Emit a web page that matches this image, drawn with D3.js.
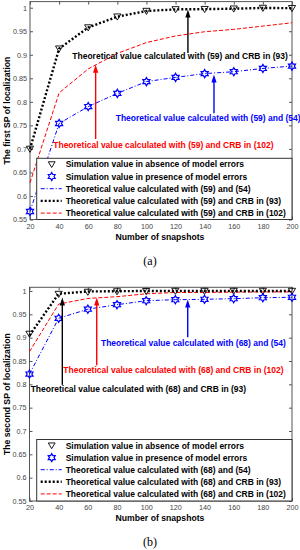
<!DOCTYPE html>
<html><head><meta charset="utf-8">
<script src="https://cdn.jsdelivr.net/npm/d3@7/dist/d3.min.js"></script>
<style>
html,body{margin:0;padding:0;background:#fff;}
svg{display:block;font-family:"Liberation Sans",Arial,sans-serif;}
</style></head>
<body>
<svg id="c" width="300" height="550"></svg>
<script>
// ---------- data ----------
const snapshots = [20, 40, 60, 80, 100, 120, 140, 160, 180, 200];
const xTicks = [20, 40, 60, 80, 100, 120, 140, 160, 180, 200];
const yTicks = [0.55, 0.6, 0.65, 0.7, 0.75, 0.8, 0.85, 0.9, 0.95, 1];

// panel (a): first SP
const aSimNoErr   = [0.700, 0.913, 0.958, 0.981, 0.993, 0.9965, 0.997, 0.998, 0.9995, 0.999];
const aSimErr     = [0.567, 0.754, 0.790, 0.818, 0.843, 0.852, 0.860, 0.864, 0.871, 0.876];
const aTheo54     = [0.567, 0.754, 0.790, 0.818, 0.843, 0.852, 0.860, 0.864, 0.871, 0.876];
const aTheo93     = [0.700, 0.913, 0.958, 0.981, 0.993, 0.9965, 0.997, 0.998, 0.9995, 0.999];
const aTheo102    = [0.628, 0.819, 0.870, 0.903, 0.926, 0.940, 0.949, 0.954, 0.961, 0.968];

// panel (b): second SP
const bSimNoErr   = [0.908, 0.9935, 0.998, 0.999, 0.9995, 1.0, 1.0, 1.0, 1.0, 1.0];
const bSimErr     = [0.822, 0.9415, 0.961, 0.9706, 0.9792, 0.9813, 0.9822, 0.9835, 0.9856, 0.9865];
const bTheo54     = [0.822, 0.9415, 0.961, 0.9706, 0.9792, 0.9813, 0.9822, 0.9835, 0.9856, 0.9865];
const bTheo93     = [0.905, 0.994, 0.999, 0.9995, 1.0, 1.0, 1.0, 1.0, 1.0, 1.0];
const bTheo102    = [0.870, 0.972, 0.984, 0.9878, 0.994, 0.9968, 0.997, 0.9975, 0.998, 0.998];

const aLegend = [
  "Simulation value in absence of model errors",
  "Simulation value in presence of model errors",
  "Theoretical value calculated with (59) and (54)",
  "Theoretical value calculated with (59) and CRB in (93)",
  "Theoretical value calculated with (59) and CRB in (102)"
];
const bLegend = [
  "Simulation value in absence of model errors",
  "Simulation value in presence of model errors",
  "Theoretical value calculated with (68) and (54)",
  "Theoretical value calculated with (68) and CRB in (93)",
  "Theoretical value calculated with (68) and CRB in (102)"
];
// annotations: text, color, text anchor point (snapshots, SP), arrow x, arrow y from, arrow y to
const aNotes = [
  {t:"Theoretical value calculated with (59) and CRB in (93)", c:"#000", tx:49.1, ty:0.897, ax:128.5, y1:0.904, y2:0.996},
  {t:"Theoretical value calculated with (59) and (54)", c:"#0000ff", tx:78.9, ty:0.765, ax:146.4, y1:0.776, y2:0.858},
  {t:"Theoretical value calculated with (59) and CRB in (102)", c:"#ff0000", tx:36.0, ty:0.708, ax:65.1, y1:0.721, y2:0.879}
];
const bNotes = [
  {t:"Theoretical value calculated with (68) and (54)", c:"#0000ff", tx:69.0, ty:0.888, ax:128.5, y1:0.901, y2:0.982},
  {t:"Theoretical value calculated with (68) and CRB in (102)", c:"#ff0000", tx:43.2, ty:0.831, ax:66.1, y1:0.841, y2:0.986},
  {t:"Theoretical value calculated with (68) and CRB in (93)", c:"#000", tx:20.8, ty:0.790, ax:42.5, y1:0.799, y2:0.986}
];

// ---------- drawing ----------
const svg = d3.select("#c");

// choose font sizes so that text widths match the reference
function fitSize(str, weight, target){
  const t = svg.append("text").attr("font-weight",weight).style("font-size","10px").text(str);
  const w = t.node().getComputedTextLength();
  t.remove();
  return 10*target/w;
}
const FS = fitSize("Theoretical value calculated with (59) and (54)", "bold", 185);
const XLFS = fitSize("Number of snapshots", "bold", 89);
const TFS = fitSize("200", "normal", 12);

function hexagram(r){
  const p = [];
  for (let i=0;i<12;i++){
    const ang = -Math.PI/2 + i*Math.PI/6;
    const rr = (i%2===0) ? r : r*0.577;
    p.push([rr*Math.cos(ang), rr*Math.sin(ang)]);
  }
  return "M" + p.map(q=>q.join(",")).join("L") + "Z";
}
function triDown(r){
  return `M${-r},${-r*0.75}L${r},${-r*0.75}L0,${r*0.95}Z`;
}

function panel(cfg){
  const g = svg.append("g");
  const x = d3.scaleLinear().domain([20,200]).range([cfg.left, cfg.right]);
  const y = d3.scaleLinear().domain([0.55, cfg.ymax]).range([cfg.bottom, cfg.top]);

  g.append("rect").attr("x",cfg.left).attr("y",cfg.top)
    .attr("width",cfg.right-cfg.left).attr("height",cfg.bottom-cfg.top)
    .attr("fill","#fff").attr("stroke","#555").attr("stroke-width",1);

  const ax = g.append("g").attr("transform",`translate(0,${cfg.bottom})`)
    .call(d3.axisBottom(x).tickValues(xTicks).tickSize(-3).tickPadding(4).tickFormat(d3.format("d")));
  const axT = g.append("g").attr("transform",`translate(0,${cfg.top})`)
    .call(d3.axisTop(x).tickValues(xTicks).tickSize(-3).tickFormat(""));
  const ay = g.append("g").attr("transform",`translate(${cfg.left},0)`)
    .call(d3.axisLeft(y).tickValues(yTicks).tickSize(-3).tickPadding(3).tickFormat(d=>String(+d.toFixed(2))));
  const ayR = g.append("g").attr("transform",`translate(${cfg.right},0)`)
    .call(d3.axisRight(y).tickValues(yTicks).tickSize(-3).tickFormat(""));
  [ax,axT,ay,ayR].forEach(a=>{
    a.select(".domain").remove();
    a.selectAll("line").attr("stroke","#555");
    a.selectAll("text").attr("fill","#444").style("font-size",TFS+"px").style("font-family","Liberation Sans, Arial, sans-serif");
  });

  const line = d3.line().x((d,i)=>x(snapshots[i])).y(d=>y(d));
  g.append("path").datum(cfg.t102).attr("d",line).attr("fill","none")
    .attr("stroke","#ff0000").attr("stroke-width",1).attr("stroke-dasharray","4,2");
  g.append("path").datum(cfg.t54).attr("d",line).attr("fill","none")
    .attr("stroke","#0000ff").attr("stroke-width",1).attr("stroke-dasharray","4,2,1,2");
  g.append("path").datum(cfg.t93).attr("d",line).attr("fill","none")
    .attr("stroke","#000").attr("stroke-width",2.4).attr("stroke-dasharray","2,2");

  g.selectAll(null).data(cfg.simNo).enter().append("path")
    .attr("transform",(d,i)=>`translate(${x(snapshots[i])},${y(d)})`)
    .attr("d",triDown(3.6)).attr("fill","none").attr("stroke","#000").attr("stroke-width",0.9);
  g.selectAll(null).data(cfg.simErr).enter().append("path")
    .attr("transform",(d,i)=>`translate(${x(snapshots[i])},${y(d)})`)
    .attr("d",hexagram(4.1)).attr("fill","none").attr("stroke","#0000ff").attr("stroke-width",1.2);

  cfg.notes.forEach(n=>{
    const ay1 = y(n.y1), ay2 = y(n.y2), axp = x(n.ax);
    g.append("line").attr("x1",axp).attr("x2",axp).attr("y1",ay1).attr("y2",ay2+6)
      .attr("stroke",n.c).attr("stroke-width",1.4);
    g.append("path").attr("d",`M${axp},${ay2}L${axp-2.6},${ay2+8}L${axp+2.6},${ay2+8}Z`).attr("fill",n.c);
    g.append("text").attr("x",x(n.tx)).attr("y",y(n.ty)+3).attr("fill",n.c)
      .attr("font-weight","bold").style("font-size",FS+"px").text(n.t);
  });

  const lg = g.append("g");
  lg.append("rect").attr("x",cfg.legX).attr("y",cfg.legY).attr("width",cfg.right-cfg.legX).attr("height",cfg.bottom-cfg.legY)
    .attr("fill","#fff").attr("stroke","#333").attr("stroke-width",1);
  cfg.legend.forEach((t,i)=>{
    const yy = cfg.legY + 6 + i*cfg.legStep;
    const sx1 = cfg.legX+4, sx2 = cfg.legX+25, sm = cfg.legX+15;
    if (i===0) lg.append("path").attr("transform",`translate(${sm},${yy})`).attr("d",triDown(3.4)).attr("fill","none").attr("stroke","#000").attr("stroke-width",0.9);
    if (i===1) lg.append("path").attr("transform",`translate(${sm},${yy})`).attr("d",hexagram(4)).attr("fill","none").attr("stroke","#0000ff").attr("stroke-width",1.2);
    if (i===2) lg.append("line").attr("x1",sx1).attr("x2",sx2).attr("y1",yy).attr("y2",yy).attr("stroke","#0000ff").attr("stroke-dasharray","4,2,1,2");
    if (i===3) lg.append("line").attr("x1",sx1).attr("x2",sx2).attr("y1",yy).attr("y2",yy).attr("stroke","#000").attr("stroke-width",2.4).attr("stroke-dasharray","2,2");
    if (i===4) lg.append("line").attr("x1",sx1).attr("x2",sx2).attr("y1",yy).attr("y2",yy).attr("stroke","#ff0000").attr("stroke-dasharray","4,2");
    lg.append("text").attr("x",cfg.legX+29).attr("y",yy+3).attr("fill","#000")
      .attr("font-weight","bold").style("font-size",FS+"px").text(t);
  });

  g.append("text").attr("x",160).attr("y",cfg.bottom+20).attr("text-anchor","middle")
    .attr("font-weight","bold").style("font-size",XLFS+"px").text("Number of snapshots");
  g.append("text").attr("transform",`translate(10,${(cfg.top+cfg.bottom)/2}) rotate(-90)`).attr("text-anchor","middle")
    .attr("font-weight","bold").style("font-size",XLFS+"px").text(cfg.ylabel);
  g.append("text").attr("x",150).attr("y",cfg.bottom+45).attr("text-anchor","middle")
    .style("font-family","Liberation Serif, Times New Roman, serif").style("font-size","12px").text(cfg.tag);
}

panel({left:30, right:292, top:1.6, bottom:219.5, ymax:1.013,
  simNo:aSimNoErr, simErr:aSimErr, t54:aTheo54, t93:aTheo93, t102:aTheo102,
  notes:aNotes, legend:aLegend, legX:36.7, legY:158.3, legStep:12.2,
  ylabel:"The first SP of localization", tag:"(a)"});
panel({left:29.5, right:292, top:287.3, bottom:501, ymax:1.0079,
  simNo:bSimNoErr, simErr:bSimErr, t54:bTheo54, t93:bTheo93, t102:bTheo102,
  notes:bNotes, legend:bLegend, legX:36.7, legY:439.5, legStep:12.1,
  ylabel:"The second SP of localization", tag:"(b)"});
</script>
</body></html>
